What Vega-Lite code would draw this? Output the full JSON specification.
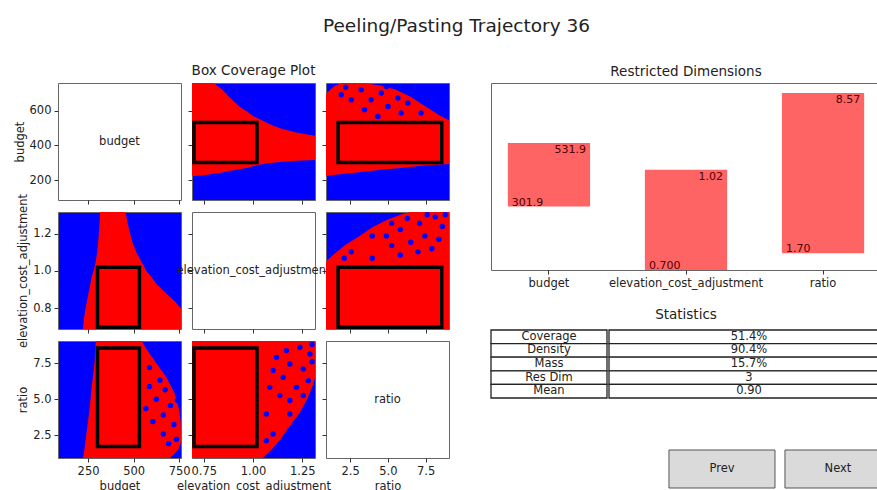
{
  "$schema": "https://vega.github.io/schema/vega-lite/v6.json",
  "background": "white",
  "padding": {"left": 13, "top": 16, "right": 0, "bottom": 0},
  "title": {"text": "Peeling/Pasting Trajectory 36", "fontSize": 18.5, "offset": 29, "anchor": "middle", "dx": 4},
  "datasets": {
    "be": [
      {"elev": 0.69, "lo": 222, "hi": 760},
      {"elev": 0.75, "lo": 228, "hi": 760},
      {"elev": 0.8, "lo": 236, "hi": 760},
      {"elev": 0.84, "lo": 244, "hi": 725},
      {"elev": 0.88, "lo": 252, "hi": 678},
      {"elev": 0.93, "lo": 262, "hi": 625},
      {"elev": 0.97, "lo": 270, "hi": 596},
      {"elev": 1.0, "lo": 280, "hi": 570},
      {"elev": 1.05, "lo": 292, "hi": 542},
      {"elev": 1.1, "lo": 300, "hi": 515},
      {"elev": 1.15, "lo": 305, "hi": 495},
      {"elev": 1.22, "lo": 311, "hi": 475},
      {"elev": 1.315, "lo": 316, "hi": 455}
    ],
    "rb": [
      {"ratio": 0.9, "lo": 222, "hi": 700},
      {"ratio": 1.5, "lo": 230, "hi": 745},
      {"ratio": 2.0, "lo": 235, "hi": 760},
      {"ratio": 2.5, "lo": 240, "hi": 760},
      {"ratio": 3.5, "lo": 250, "hi": 758},
      {"ratio": 4.5, "lo": 260, "hi": 745},
      {"ratio": 5.5, "lo": 267, "hi": 722},
      {"ratio": 6.5, "lo": 276, "hi": 680},
      {"ratio": 7.5, "lo": 285, "hi": 625},
      {"ratio": 8.5, "lo": 290, "hi": 570},
      {"ratio": 9.05, "lo": 292, "hi": 545}
    ],
    "rb_dots": [
      {"ratio": 3.23, "budget": 721},
      {"ratio": 3.89, "budget": 663},
      {"ratio": 4.56, "budget": 702},
      {"ratio": 5.0, "budget": 625},
      {"ratio": 5.66, "budget": 673},
      {"ratio": 6.32, "budget": 644},
      {"ratio": 3.45, "budget": 606},
      {"ratio": 2.57, "budget": 663},
      {"ratio": 1.91, "budget": 692},
      {"ratio": 7.2, "budget": 587},
      {"ratio": 4.34, "budget": 567},
      {"ratio": 5.88, "budget": 587},
      {"ratio": 2.2, "budget": 735},
      {"ratio": 4.9, "budget": 740}
    ],
    "re": [
      {"ratio": 0.9, "lo": 0.69, "hi": 1.05},
      {"ratio": 1.5, "lo": 0.69, "hi": 1.095},
      {"ratio": 2.2, "lo": 0.69, "hi": 1.14},
      {"ratio": 3.0, "lo": 0.69, "hi": 1.18},
      {"ratio": 4.0, "lo": 0.69, "hi": 1.235},
      {"ratio": 5.0, "lo": 0.69, "hi": 1.275},
      {"ratio": 6.0, "lo": 0.69, "hi": 1.305},
      {"ratio": 6.5, "lo": 0.69, "hi": 1.315},
      {"ratio": 9.05, "lo": 0.69, "hi": 1.315}
    ],
    "re_dots": [
      {"ratio": 8.38, "elev": 1.17},
      {"ratio": 8.61, "elev": 1.238},
      {"ratio": 8.14, "elev": 1.289},
      {"ratio": 7.45, "elev": 1.187},
      {"ratio": 7.1, "elev": 1.255},
      {"ratio": 6.52, "elev": 1.153},
      {"ratio": 5.82, "elev": 1.221},
      {"ratio": 6.29, "elev": 1.281},
      {"ratio": 6.99, "elev": 1.102},
      {"ratio": 4.9, "elev": 1.187},
      {"ratio": 5.25, "elev": 1.255},
      {"ratio": 5.25, "elev": 1.136},
      {"ratio": 3.96, "elev": 1.068},
      {"ratio": 3.96, "elev": 1.187},
      {"ratio": 2.57, "elev": 1.102},
      {"ratio": 7.91, "elev": 1.119},
      {"ratio": 5.82, "elev": 1.085},
      {"ratio": 2.11, "elev": 1.068},
      {"ratio": 8.8, "elev": 1.3},
      {"ratio": 7.6, "elev": 1.3}
    ],
    "box": [
      {"budget_lo": 301.9, "budget_hi": 531.9, "elev_lo": 0.7, "elev_hi": 1.02, "ratio_lo": 1.7, "ratio_hi": 8.57}
    ],
    "dims": [
      {"dim": "budget", "lo_n": 0.339, "hi_n": 0.679, "lo_t": "301.9", "hi_t": "531.9"},
      {"dim": "elevation_cost_adjustment", "lo_n": 0.0, "hi_n": 0.536, "lo_t": "0.700", "hi_t": "1.02"},
      {"dim": "ratio", "lo_n": 0.089, "hi_n": 0.946, "lo_t": "1.70", "hi_t": "8.57"}
    ],
    "stats": [
      {"stat": "Coverage", "value": "51.4%"},
      {"stat": "Density", "value": "90.4%"},
      {"stat": "Mass", "value": "15.7%"},
      {"stat": "Res Dim", "value": "3"},
      {"stat": "Mean", "value": "0.90"}
    ],
    "buttons": [
      {"label": "Prev"},
      {"label": "Next"}
    ]
  },
  "spacing": 40,
  "hconcat": [
    {
      "title": {"text": "Box Coverage Plot", "dx": 22},
      "columns": 3,
      "bounds": "flush",
      "spacing": {"row": 12, "column": 11},
      "concat": [
        {
          "width": 123, "height": 117,
          "data": {"name": "box"},
          "mark": {"type": "text", "fontSize": 11.5, "color": "#222"},
          "encoding": {
            "x": {"datum": 422.5, "type": "quantitative", "scale": {"domain": [85, 760], "nice": false, "zero": false}, "axis": {"values": [250, 500, 750], "labels": false, "title": null}},
            "y": {"datum": 422.5, "type": "quantitative", "scale": {"domain": [85, 760], "nice": false, "zero": false}, "axis": {"values": [200, 400, 600], "format": "d", "title": "budget"}},
            "text": {"value": "budget"}
          }
        },
        {
          "width": 123, "height": 117,
          "view": {"fill": "#0000ff"},
          "layer": [
            {
              "data": {"name": "be"},
              "mark": {"type": "area", "color": "#ff0000", "clip": true, "orient": "vertical"},
              "encoding": {
                "x": {"field": "elev", "type": "quantitative", "scale": {"domain": [0.69, 1.315], "nice": false, "zero": false}, "axis": {"values": [0.75, 1.0, 1.25], "labels": false, "title": null}},
                "y": {"field": "lo", "type": "quantitative", "scale": {"domain": [85, 760], "nice": false, "zero": false}, "axis": {"values": [200, 400, 600], "labels": false, "title": null}},
                "y2": {"field": "hi"}
              }
            },
            {
              "data": {"name": "box"},
              "mark": {"type": "rect", "fillOpacity": 0, "stroke": "#000", "strokeWidth": 3.5},
              "encoding": {
                "x": {"field": "elev_lo", "type": "quantitative"}, "x2": {"field": "elev_hi"},
                "y": {"field": "budget_lo", "type": "quantitative"}, "y2": {"field": "budget_hi"}
              }
            }
          ]
        },
        {
          "width": 123, "height": 117,
          "view": {"fill": "#0000ff"},
          "layer": [
            {
              "data": {"name": "rb"},
              "mark": {"type": "area", "color": "#ff0000", "clip": true, "orient": "vertical"},
              "encoding": {
                "x": {"field": "ratio", "type": "quantitative", "scale": {"domain": [0.9, 9.05], "nice": false, "zero": false}, "axis": {"values": [2.5, 5, 7.5], "labels": false, "title": null}},
                "y": {"field": "lo", "type": "quantitative", "scale": {"domain": [85, 760], "nice": false, "zero": false}, "axis": {"values": [200, 400, 600], "labels": false, "title": null}},
                "y2": {"field": "hi"}
              }
            },
            {
              "data": {"name": "rb_dots"},
              "mark": {"type": "point", "filled": true, "size": 30, "color": "#0000ff", "opacity": 1, "clip": true},
              "encoding": {
                "x": {"field": "ratio", "type": "quantitative"},
                "y": {"field": "budget", "type": "quantitative"}
              }
            },
            {
              "data": {"name": "box"},
              "mark": {"type": "rect", "fillOpacity": 0, "stroke": "#000", "strokeWidth": 3.5},
              "encoding": {
                "x": {"field": "ratio_lo", "type": "quantitative"}, "x2": {"field": "ratio_hi"},
                "y": {"field": "budget_lo", "type": "quantitative"}, "y2": {"field": "budget_hi"}
              }
            }
          ]
        },
        {
          "width": 123, "height": 117,
          "view": {"fill": "#0000ff"},
          "layer": [
            {
              "data": {"name": "be"},
              "mark": {"type": "area", "color": "#ff0000", "clip": true, "orient": "horizontal"},
              "encoding": {
                "y": {"field": "elev", "type": "quantitative", "scale": {"domain": [0.69, 1.315], "nice": false, "zero": false}, "axis": {"values": [0.8, 1.0, 1.2], "format": ".1f", "title": "elevation_cost_adjustment"}},
                "x": {"field": "lo", "type": "quantitative", "scale": {"domain": [85, 760], "nice": false, "zero": false}, "axis": {"values": [250, 500, 750], "labels": false, "title": null}},
                "x2": {"field": "hi"}
              }
            },
            {
              "data": {"name": "box"},
              "mark": {"type": "rect", "fillOpacity": 0, "stroke": "#000", "strokeWidth": 3.5},
              "encoding": {
                "x": {"field": "budget_lo", "type": "quantitative"}, "x2": {"field": "budget_hi"},
                "y": {"field": "elev_lo", "type": "quantitative"}, "y2": {"field": "elev_hi"}
              }
            }
          ]
        },
        {
          "width": 123, "height": 117,
          "data": {"name": "box"},
          "mark": {"type": "text", "fontSize": 11.5, "color": "#222"},
          "encoding": {
            "x": {"datum": 1.0025, "type": "quantitative", "scale": {"domain": [0.69, 1.315], "nice": false, "zero": false}, "axis": {"values": [0.75, 1.0, 1.25], "labels": false, "title": null}},
            "y": {"datum": 1.0025, "type": "quantitative", "scale": {"domain": [0.69, 1.315], "nice": false, "zero": false}, "axis": {"values": [0.8, 1.0, 1.2], "labels": false, "title": null}},
            "text": {"value": "elevation_cost_adjustment"}
          }
        },
        {
          "width": 123, "height": 117,
          "view": {"fill": "#0000ff"},
          "layer": [
            {
              "data": {"name": "re"},
              "mark": {"type": "area", "color": "#ff0000", "clip": true, "orient": "vertical"},
              "encoding": {
                "x": {"field": "ratio", "type": "quantitative", "scale": {"domain": [0.9, 9.05], "nice": false, "zero": false}, "axis": {"values": [2.5, 5, 7.5], "labels": false, "title": null}},
                "y": {"field": "lo", "type": "quantitative", "scale": {"domain": [0.69, 1.315], "nice": false, "zero": false}, "axis": {"values": [0.8, 1.0, 1.2], "labels": false, "title": null}},
                "y2": {"field": "hi"}
              }
            },
            {
              "data": {"name": "re_dots"},
              "mark": {"type": "point", "filled": true, "size": 30, "color": "#0000ff", "opacity": 1, "clip": true},
              "encoding": {
                "x": {"field": "ratio", "type": "quantitative"},
                "y": {"field": "elev", "type": "quantitative"}
              }
            },
            {
              "data": {"name": "box"},
              "mark": {"type": "rect", "fillOpacity": 0, "stroke": "#000", "strokeWidth": 3.5},
              "encoding": {
                "x": {"field": "ratio_lo", "type": "quantitative"}, "x2": {"field": "ratio_hi"},
                "y": {"field": "elev_lo", "type": "quantitative"}, "y2": {"field": "elev_hi"}
              }
            }
          ]
        },
        {
          "width": 123, "height": 117,
          "view": {"fill": "#0000ff"},
          "layer": [
            {
              "data": {"name": "rb"},
              "mark": {"type": "area", "color": "#ff0000", "clip": true, "orient": "horizontal"},
              "encoding": {
                "y": {"field": "ratio", "type": "quantitative", "scale": {"domain": [0.9, 9.05], "nice": false, "zero": false}, "axis": {"values": [2.5, 5, 7.5], "format": ".1f", "title": "ratio"}},
                "x": {"field": "lo", "type": "quantitative", "scale": {"domain": [85, 760], "nice": false, "zero": false}, "axis": {"values": [250, 500, 750], "format": "d", "title": "budget"}},
                "x2": {"field": "hi"}
              }
            },
            {
              "data": {"name": "rb_dots"},
              "mark": {"type": "point", "filled": true, "size": 30, "color": "#0000ff", "opacity": 1, "clip": true},
              "encoding": {
                "x": {"field": "budget", "type": "quantitative"},
                "y": {"field": "ratio", "type": "quantitative"}
              }
            },
            {
              "data": {"name": "box"},
              "mark": {"type": "rect", "fillOpacity": 0, "stroke": "#000", "strokeWidth": 3.5},
              "encoding": {
                "x": {"field": "budget_lo", "type": "quantitative"}, "x2": {"field": "budget_hi"},
                "y": {"field": "ratio_lo", "type": "quantitative"}, "y2": {"field": "ratio_hi"}
              }
            }
          ]
        },
        {
          "width": 123, "height": 117,
          "view": {"fill": "#0000ff"},
          "layer": [
            {
              "data": {"name": "re"},
              "mark": {"type": "area", "color": "#ff0000", "clip": true, "orient": "horizontal"},
              "encoding": {
                "y": {"field": "ratio", "type": "quantitative", "scale": {"domain": [0.9, 9.05], "nice": false, "zero": false}, "axis": {"values": [2.5, 5, 7.5], "labels": false, "title": null}},
                "x": {"field": "lo", "type": "quantitative", "scale": {"domain": [0.69, 1.315], "nice": false, "zero": false}, "axis": {"values": [0.75, 1.0, 1.25], "format": ".2f", "title": "elevation_cost_adjustment"}},
                "x2": {"field": "hi"}
              }
            },
            {
              "data": {"name": "re_dots"},
              "mark": {"type": "point", "filled": true, "size": 30, "color": "#0000ff", "opacity": 1, "clip": true},
              "encoding": {
                "x": {"field": "elev", "type": "quantitative"},
                "y": {"field": "ratio", "type": "quantitative"}
              }
            },
            {
              "data": {"name": "box"},
              "mark": {"type": "rect", "fillOpacity": 0, "stroke": "#000", "strokeWidth": 3.5},
              "encoding": {
                "x": {"field": "elev_lo", "type": "quantitative"}, "x2": {"field": "elev_hi"},
                "y": {"field": "ratio_lo", "type": "quantitative"}, "y2": {"field": "ratio_hi"}
              }
            }
          ]
        },
        {
          "width": 123, "height": 117,
          "data": {"name": "box"},
          "mark": {"type": "text", "fontSize": 11.5, "color": "#222"},
          "encoding": {
            "x": {"datum": 4.975, "type": "quantitative", "scale": {"domain": [0.9, 9.05], "nice": false, "zero": false}, "axis": {"values": [2.5, 5, 7.5], "format": ".1f", "title": "ratio"}},
            "y": {"datum": 4.975, "type": "quantitative", "scale": {"domain": [0.9, 9.05], "nice": false, "zero": false}, "axis": {"values": [2.5, 5, 7.5], "labels": false, "title": null}},
            "text": {"value": "ratio"}
          }
        }
      ]
    },
    {
      "spacing": 18,
      "vconcat": [
        {
          "title": "Restricted Dimensions",
          "width": 390, "height": 187,
          "data": {"name": "dims"},
          "layer": [
            {
              "mark": {"type": "bar", "color": "#ff6464"},
              "encoding": {
                "x": {"field": "dim", "type": "nominal", "sort": null, "scale": {"paddingInner": 0.4, "paddingOuter": 0.123}, "axis": {"title": null, "labelAngle": 0}},
                "y": {"field": "lo_n", "type": "quantitative", "scale": {"domain": [0, 1], "nice": false}, "axis": null},
                "y2": {"field": "hi_n"}
              }
            },
            {
              "mark": {"type": "text", "align": "right", "baseline": "top", "dx": -4, "dy": 1, "fontSize": 11, "color": "#500000"},
              "encoding": {
                "x": {"field": "dim", "type": "nominal", "sort": null, "bandPosition": 1},
                "y": {"field": "hi_n", "type": "quantitative"},
                "text": {"field": "hi_t"}
              }
            },
            {
              "mark": {"type": "text", "align": "left", "baseline": "alphabetic", "dx": 4, "dy": -1, "fontSize": 11, "color": "#500000"},
              "encoding": {
                "x": {"field": "dim", "type": "nominal", "sort": null, "bandPosition": 0},
                "y": {"field": "lo_n", "type": "quantitative"},
                "text": {"field": "lo_t"}
              }
            }
          ]
        },
        {
          "spacing": 50,
          "vconcat": [
            {
              "title": {"text": "Statistics", "offset": 8, "dx": -4},
              "spacing": 0,
              "hconcat": [
                {
                  "width": 116, "height": 68,
                  "data": {"name": "stats"},
                  "view": {"stroke": null},
                  "layer": [
                    {
                      "mark": {"type": "rect", "fill": "#ffffff", "stroke": "#222", "strokeWidth": 1.3},
                      "encoding": {"y": {"field": "stat", "type": "nominal", "sort": null, "axis": null, "scale": {"paddingInner": 0, "paddingOuter": 0}}}
                    },
                    {
                      "mark": {"type": "text", "fontSize": 11.5, "color": "#222"},
                      "encoding": {"y": {"field": "stat", "type": "nominal", "sort": null}, "text": {"field": "stat"}}
                    }
                  ]
                },
                {
                  "width": 280, "height": 68,
                  "data": {"name": "stats"},
                  "view": {"stroke": null},
                  "layer": [
                    {
                      "mark": {"type": "rect", "fill": "#ffffff", "stroke": "#222", "strokeWidth": 1.3},
                      "encoding": {"y": {"field": "stat", "type": "nominal", "sort": null, "axis": null, "scale": {"paddingInner": 0, "paddingOuter": 0}}}
                    },
                    {
                      "mark": {"type": "text", "fontSize": 11.5, "color": "#222"},
                      "encoding": {"y": {"field": "stat", "type": "nominal", "sort": null}, "text": {"field": "value"}}
                    }
                  ]
                }
              ]
            },
            {
              "width": 400, "height": 38,
              "data": {"name": "buttons"},
              "view": {"stroke": null},
              "layer": [
                {
                  "mark": {"type": "rect", "fill": "#dadada", "stroke": "#555", "strokeWidth": 1},
                  "encoding": {"x": {"field": "label", "type": "nominal", "sort": null, "axis": null, "scale": {"paddingInner": 0.086, "paddingOuter": 0.767, "align": 1}}}
                },
                {
                  "mark": {"type": "text", "fontSize": 11.5, "color": "#222"},
                  "encoding": {"x": {"field": "label", "type": "nominal", "sort": null}, "text": {"field": "label"}}
                }
              ]
            }
          ]
        }
      ]
    }
  ],
  "config": {
    "font": "DejaVu Sans",
    "view": {"stroke": "#666", "strokeWidth": 1},
    "axis": {"labelFont": "DejaVu Sans", "labelFontSize": 11.5, "labelColor": "#222", "titleFont": "DejaVu Sans", "titleFontSize": 11.5, "titleFontWeight": "normal", "titleColor": "#222", "tickColor": "#333", "tickSize": 4, "labelPadding": 3, "domain": false, "grid": false, "labelFlush": false, "labelOverlap": false, "titleLimit": 400},
    "title": {"font": "DejaVu Sans", "fontWeight": "normal", "color": "#222", "fontSize": 13.5, "anchor": "middle", "offset": 5}
  }
}
